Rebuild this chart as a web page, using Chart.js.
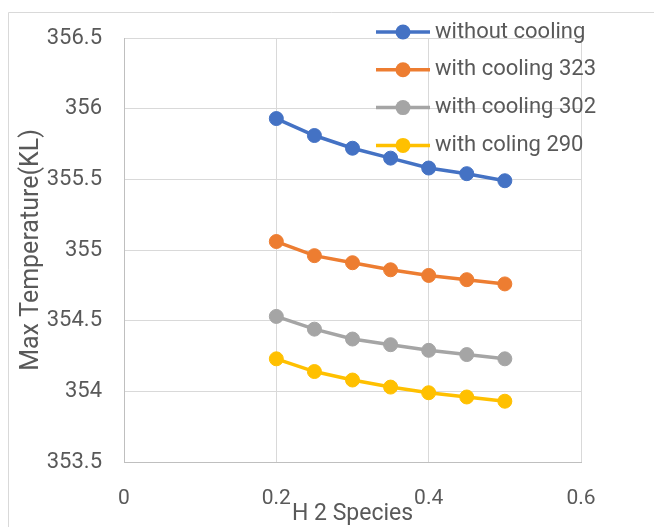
<!DOCTYPE html>
<html><head><meta charset="utf-8">
<script src="https://cdn.jsdelivr.net/npm/chart.js@4"></script>
<style>html,body{margin:0;padding:0;background:#fff;overflow:hidden}#wrap{position:relative;width:654px;height:527px}</style>
</head><body><div id="wrap"><canvas id="c" width="654" height="527"></canvas></div>
<script>
const xValues = [0.2, 0.25, 0.3, 0.35, 0.4, 0.45, 0.5];
const withoutCooling = [355.93, 355.81, 355.72, 355.65, 355.58, 355.54, 355.49];
const cooling323 = [355.06, 354.96, 354.91, 354.86, 354.82, 354.79, 354.76];
const cooling302 = [354.53, 354.44, 354.37, 354.33, 354.29, 354.26, 354.23];
const cooling290 = [354.23, 354.14, 354.08, 354.03, 353.99, 353.96, 353.93];
const seriesNames = ['without cooling', 'with cooling 323', 'with cooling 302', 'with coling 290'];
const seriesColors = ['#4472C4', '#ED7D31', '#A5A5A5', '#FFC000'];
const xTicks = [0, 0.2, 0.4, 0.6];
const yTicks = [353.5, 354, 354.5, 355, 355.5, 356, 356.5];
const xTitle = 'H 2 Species';
const yTitle = 'Max Temperature(KL)';

const allSeries = [withoutCooling, cooling323, cooling302, cooling290];
const FONT = 'Roboto';
const TEXT = '#595959';

const datasets = allSeries.map((vals, i) => ({
  label: seriesNames[i],
  data: xValues.map((x, j) => ({x: x, y: vals[j]})),
  borderColor: seriesColors[i],
  backgroundColor: seriesColors[i],
  pointBackgroundColor: seriesColors[i],
  pointBorderColor: seriesColors[i],
  borderWidth: 3.5,
  pointRadius: 7,
  pointBorderWidth: 1,
  tension: 0
}));

const framePlugin = {
  id: 'frame',
  beforeDraw(chart) {
    const ctx = chart.ctx;
    ctx.save();
    ctx.strokeStyle = '#d9d9d9';
    ctx.lineWidth = 1;
    ctx.beginPath();
    ctx.moveTo(8.5, 527);
    ctx.lineTo(8.5, 12.5);
    ctx.lineTo(654, 12.5);
    ctx.stroke();
    ctx.restore();
  }
};

const legendPlugin = {
  id: 'customLegend',
  afterDraw(chart) {
    const ctx = chart.ctx;
    ctx.save();
    const x0 = 376, x1 = 430, cx = 403, tx = 435;
    const y0 = 32, dy = 37.8;
    chart.data.datasets.forEach((ds, i) => {
      const y = y0 + i * dy;
      ctx.strokeStyle = ds.borderColor;
      ctx.lineWidth = 3.5;
      ctx.beginPath();
      ctx.moveTo(x0, y);
      ctx.lineTo(x1, y);
      ctx.stroke();
      ctx.fillStyle = ds.borderColor;
      ctx.beginPath();
      ctx.arc(cx, y, 7.5, 0, Math.PI * 2);
      ctx.fill();
      ctx.fillStyle = TEXT;
      ctx.font = '22px ' + FONT;
      ctx.textBaseline = 'middle';
      ctx.textAlign = 'left';
      ctx.fillText(ds.label, tx, y);
    });
    ctx.restore();
  }
};

new Chart(document.getElementById('c'), {
  type: 'line',
  data: {datasets: datasets},
  plugins: [framePlugin, legendPlugin],
  options: {
    responsive: false,
    devicePixelRatio: 1,
    animation: false,
    layout: {padding: {left: 0, top: 38, right: 73, bottom: 0}},
    plugins: {legend: {display: false}, tooltip: {enabled: false}},
    scales: {
      x: {
        type: 'linear',
        min: xTicks[0],
        max: xTicks[xTicks.length - 1],
        afterBuildTicks: s => { s.ticks = xTicks.map(v => ({value: v})); },
        afterFit: s => { s.height = 65; },
        grid: {color: '#d9d9d9', lineWidth: 1, drawTicks: false},
        border: {color: '#bfbfbf', width: 1},
        ticks: {color: TEXT, font: {family: FONT, size: 21}, padding: 24, maxRotation: 0,
                callback: v => String(v)},
        title: {display: true, text: xTitle, color: TEXT, font: {family: FONT, size: 23}, padding: {top: 0, bottom: -1}}
      },
      y: {
        type: 'linear',
        min: yTicks[0],
        max: yTicks[yTicks.length - 1],
        afterBuildTicks: s => { s.ticks = yTicks.map(v => ({value: v})); },
        afterFit: s => { s.width = 124; },
        grid: {color: '#d9d9d9', lineWidth: 1, drawTicks: false},
        border: {color: '#bfbfbf', width: 1},
        ticks: {color: TEXT, font: {family: FONT, size: 22}, padding: 22,
                callback: v => String(v)},
        title: {display: true, text: yTitle, color: TEXT, font: {family: FONT, size: 25}, padding: {top: 17, bottom: 0}}
      }
    }
  }
});
</script></body></html>
